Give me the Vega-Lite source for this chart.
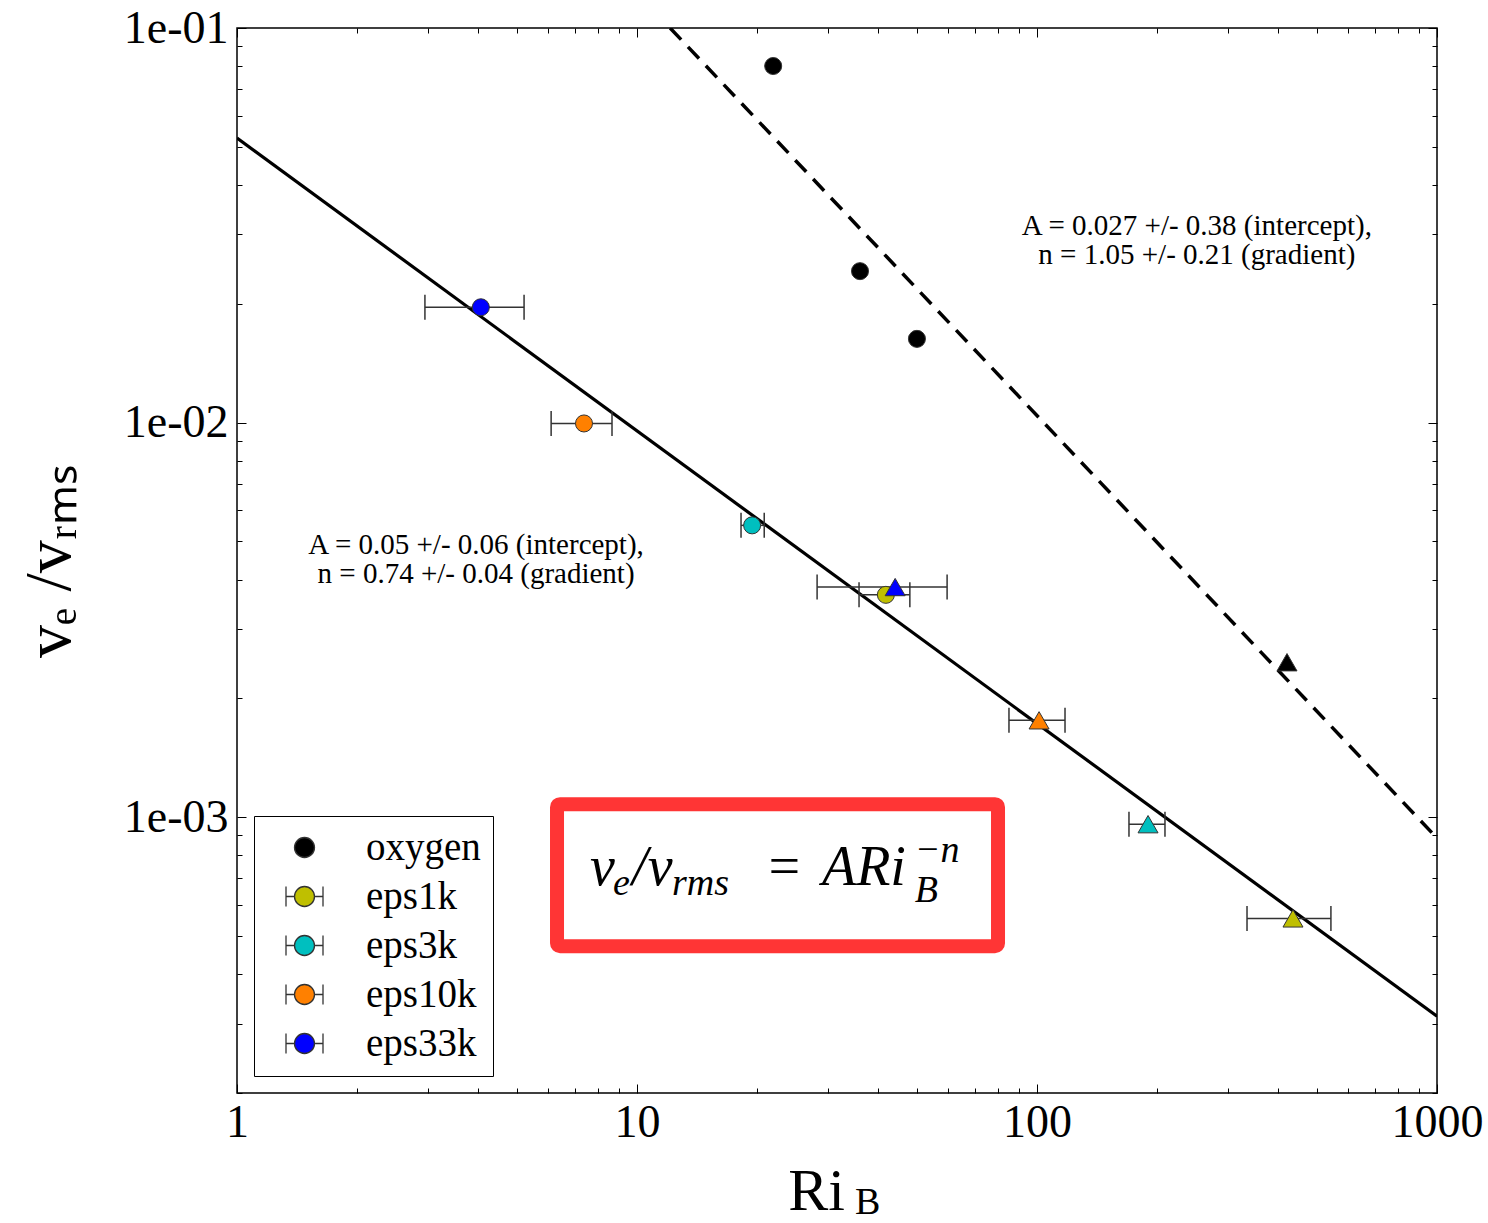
{
  "$schema": "https://vega.github.io/schema/vega-lite/v6.json",
  "width": 1200,
  "height": 1065,
  "autosize": {"type": "none"},
  "padding": {"left": 237, "top": 28, "right": 51, "bottom": 130},
  "background": "white",
  "config": {
    "view": {"stroke": "black", "strokeWidth": 1.5},
    "axis": {
      "domain": false,
      "grid": false,
      "tickColor": "black",
      "tickWidth": 1,
      "labelFont": "Liberation Serif",
      "labelFontSize": 46,
      "labelColor": "black",
      "labelFlush": false,
      "labelOverlap": false,
      "labelBound": false,
      "titleFont": "Liberation Serif",
      "titleColor": "black",
      "titleFontWeight": "normal"
    }
  },
  "datasets": {
    "runs": [
      {"sim": "oxygen", "case": "I", "ri": 21.9, "ve": 0.0801},
      {"sim": "oxygen", "case": "I", "ri": 36.1, "ve": 0.0242},
      {"sim": "oxygen", "case": "I", "ri": 50.1, "ve": 0.0163},
      {"sim": "eps33k", "case": "I", "ri": 4.07, "ve": 0.0196, "lo": 2.95, "hi": 5.22},
      {"sim": "eps10k", "case": "I", "ri": 7.37, "ve": 0.00995, "lo": 6.1, "hi": 8.66},
      {"sim": "eps3k", "case": "I", "ri": 19.4, "ve": 0.00549, "lo": 18.2, "hi": 20.8},
      {"sim": "eps1k", "case": "I", "ri": 41.9, "ve": 0.00366, "lo": 35.9, "hi": 48.1},
      {"sim": "oxygen", "case": "II", "ri": 421.7, "ve": 0.00247},
      {"sim": "eps33k", "case": "II", "ri": 44.2, "ve": 0.00383, "lo": 28.2, "hi": 59.6},
      {"sim": "eps10k", "case": "II", "ri": 101.2, "ve": 0.00176, "lo": 85.1, "hi": 117.5},
      {"sim": "eps3k", "case": "II", "ri": 189.5, "ve": 0.00096, "lo": 169.8, "hi": 208.9},
      {"sim": "eps1k", "case": "II", "ri": 436.5, "ve": 0.000554, "lo": 335, "hi": 543}
    ],
    "fitEps": [
      {"ri": 1, "ve": 0.0526},
      {"ri": 1000, "ve": 0.000313}
    ],
    "fitOxygen": [
      {"ri": 12.1, "ve": 0.1},
      {"ri": 1000, "ve": 0.000885}
    ],
    "fitNotes": [
      {"note": "A = 0.027 +/- 0.38 (intercept),\nn = 1.05 +/- 0.21 (gradient)", "ri": 251, "ve": 0.0315},
      {"note": "A = 0.05 +/- 0.06 (intercept),\nn = 0.74 +/- 0.04 (gradient)", "ri": 3.96, "ve": 0.00489}
    ],
    "lawBox": [
      {"ri0": 6.31, "ri1": 79.9, "ve0": 0.000471, "ve1": 0.001079}
    ],
    "lawMain": [
      {"t": "v", "ri": 7.63, "ve": 0.000672},
      {"t": "/v", "ri": 9.72, "ve": 0.000672},
      {"t": "=", "ri": 20.89, "ve": 0.000672},
      {"t": "ARi", "ri": 29.0, "ve": 0.000672}
    ],
    "lawSub": [
      {"t": "e", "ri": 8.71, "ve": 0.000634},
      {"t": "rms", "ri": 12.23, "ve": 0.000634},
      {"t": "B", "ri": 49.5, "ve": 0.000609},
      {"t": "−n", "ri": 49.5, "ve": 0.000769}
    ],
    "xTitleSub": [
      {"t": "B", "ri": 35.1, "ve": 0.0000985}
    ]
  },
  "layer": [
    {
      "data": {"name": "lawBox"},
      "mark": {"type": "rect", "fill": "white", "stroke": "#ff3535", "strokeWidth": 14, "cornerRadius": 3},
      "encoding": {
        "x": {
          "field": "ri0", "type": "quantitative",
          "scale": {"type": "log", "domain": [1, 1000], "nice": false},
          "axis": {
            "orient": "bottom",
            "values": [1, 2, 3, 4, 5, 6, 7, 8, 9, 10, 20, 30, 40, 50, 60, 70, 80, 90, 100, 200, 300, 400, 500, 600, 700, 800, 900, 1000],
            "labelExpr": "indexof([1, 10, 100, 1000], datum.value) >= 0 ? '' + datum.value : ''",
            "tickSize": {"expr": "indexof([1, 10, 100, 1000], datum.value) >= 0 ? -9 : -5"},
            "labelPadding": 16,
            "title": "Ri",
            "titleFontSize": 60,
            "titlePadding": 13,
            "titleX": 579
          }
        },
        "x2": {"field": "ri1"},
        "y": {
          "field": "ve0", "type": "quantitative",
          "scale": {"type": "log", "domain": [0.0002, 0.1], "nice": false},
          "axis": {
            "orient": "left",
            "values": [0.0002, 0.0003, 0.0004, 0.0005, 0.0006, 0.0007, 0.0008, 0.0009, 0.001, 0.002, 0.003, 0.004, 0.005, 0.006, 0.007, 0.008, 0.009, 0.01, 0.02, 0.03, 0.04, 0.05, 0.06, 0.07, 0.08, 0.09, 0.1],
            "labelExpr": "datum.value == 0.1 ? '1e-01' : datum.value == 0.01 ? '1e-02' : datum.value == 0.001 ? '1e-03' : ''",
            "tickSize": {"expr": "indexof([0.001, 0.01, 0.1], datum.value) >= 0 ? -9 : -5"},
            "labelPadding": 18,
            "title": "vₑ /vᵣₘₛ",
            "titleFontSize": 66,
            "titlePadding": 40
          }
        },
        "y2": {"field": "ve1"}
      }
    },
    {
      "data": {"name": "lawMain"},
      "mark": {"type": "text", "font": "Liberation Serif", "fontStyle": "italic", "fontSize": 56, "align": "left", "baseline": "alphabetic", "color": "black"},
      "encoding": {
        "x": {"field": "ri", "type": "quantitative", "scale": {"type": "log", "domain": [1, 1000], "nice": false}, "axis": null},
        "y": {"field": "ve", "type": "quantitative", "scale": {"type": "log", "domain": [0.0002, 0.1], "nice": false}, "axis": null},
        "text": {"field": "t"}
      }
    },
    {
      "data": {"name": "lawSub"},
      "mark": {"type": "text", "font": "Liberation Serif", "fontStyle": "italic", "fontSize": 38, "align": "left", "baseline": "alphabetic", "color": "black"},
      "encoding": {
        "x": {"field": "ri", "type": "quantitative", "scale": {"type": "log", "domain": [1, 1000], "nice": false}, "axis": null},
        "y": {"field": "ve", "type": "quantitative", "scale": {"type": "log", "domain": [0.0002, 0.1], "nice": false}, "axis": null},
        "text": {"field": "t"}
      }
    },
    {
      "data": {"name": "xTitleSub"},
      "mark": {"type": "text", "font": "Liberation Serif", "fontSize": 38, "align": "left", "baseline": "alphabetic", "color": "black"},
      "encoding": {
        "x": {"field": "ri", "type": "quantitative", "scale": {"type": "log", "domain": [1, 1000], "nice": false}, "axis": null},
        "y": {"field": "ve", "type": "quantitative", "scale": {"type": "log", "domain": [0.0002, 0.1], "nice": false}, "axis": null},
        "text": {"field": "t"}
      }
    },
    {
      "data": {"name": "fitNotes"},
      "mark": {"type": "text", "font": "Liberation Serif", "fontSize": 29, "align": "center", "baseline": "middle", "lineBreak": "\n", "lineHeight": 29, "color": "black"},
      "encoding": {
        "x": {"field": "ri", "type": "quantitative", "scale": {"type": "log", "domain": [1, 1000], "nice": false}, "axis": null},
        "y": {"field": "ve", "type": "quantitative", "scale": {"type": "log", "domain": [0.0002, 0.1], "nice": false}, "axis": null},
        "text": {"field": "note"}
      }
    },
    {
      "data": {"name": "fitEps"},
      "mark": {"type": "line", "color": "black", "strokeWidth": 3.2, "clip": true},
      "encoding": {
        "x": {"field": "ri", "type": "quantitative", "scale": {"type": "log", "domain": [1, 1000], "nice": false}, "axis": null},
        "y": {"field": "ve", "type": "quantitative", "scale": {"type": "log", "domain": [0.0002, 0.1], "nice": false}, "axis": null}
      }
    },
    {
      "data": {"name": "fitOxygen"},
      "mark": {"type": "line", "color": "black", "strokeWidth": 3.5, "strokeDash": [16, 10], "clip": true},
      "encoding": {
        "x": {
          "field": "ri", "type": "quantitative",
          "scale": {"type": "log", "domain": [1, 1000], "nice": false},
          "axis": {
            "orient": "top",
            "values": [1, 2, 3, 4, 5, 6, 7, 8, 9, 10, 20, 30, 40, 50, 60, 70, 80, 90, 100, 200, 300, 400, 500, 600, 700, 800, 900, 1000],
            "labels": false,
            "tickSize": {"expr": "indexof([1, 10, 100, 1000], datum.value) >= 0 ? -9 : -5"},
            "title": null
          }
        },
        "y": {
          "field": "ve", "type": "quantitative",
          "scale": {"type": "log", "domain": [0.0002, 0.1], "nice": false},
          "axis": {
            "orient": "right",
            "values": [0.0002, 0.0003, 0.0004, 0.0005, 0.0006, 0.0007, 0.0008, 0.0009, 0.001, 0.002, 0.003, 0.004, 0.005, 0.006, 0.007, 0.008, 0.009, 0.01, 0.02, 0.03, 0.04, 0.05, 0.06, 0.07, 0.08, 0.09, 0.1],
            "labels": false,
            "tickSize": {"expr": "indexof([0.001, 0.01, 0.1], datum.value) >= 0 ? -9 : -5"},
            "title": null
          }
        }
      }
    },
    {
      "data": {"name": "runs"},
      "transform": [{"filter": "isValid(datum.lo)"}],
      "mark": {"type": "rule", "color": "#333333", "strokeWidth": 1.5},
      "encoding": {
        "x": {"field": "lo", "type": "quantitative", "scale": {"type": "log", "domain": [1, 1000], "nice": false}, "axis": null},
        "x2": {"field": "hi"},
        "y": {"field": "ve", "type": "quantitative", "scale": {"type": "log", "domain": [0.0002, 0.1], "nice": false}, "axis": null}
      }
    },
    {
      "data": {"name": "runs"},
      "transform": [{"filter": "isValid(datum.lo)"}],
      "mark": {"type": "point", "shape": "M0,-1L0,1", "filled": false, "stroke": "#333333", "strokeWidth": 1.5, "size": 625, "opacity": 1},
      "encoding": {
        "x": {"field": "lo", "type": "quantitative", "scale": {"type": "log", "domain": [1, 1000], "nice": false}, "axis": null},
        "y": {"field": "ve", "type": "quantitative", "scale": {"type": "log", "domain": [0.0002, 0.1], "nice": false}, "axis": null}
      }
    },
    {
      "data": {"name": "runs"},
      "transform": [{"filter": "isValid(datum.hi)"}],
      "mark": {"type": "point", "shape": "M0,-1L0,1", "filled": false, "stroke": "#333333", "strokeWidth": 1.5, "size": 625, "opacity": 1},
      "encoding": {
        "x": {"field": "hi", "type": "quantitative", "scale": {"type": "log", "domain": [1, 1000], "nice": false}, "axis": null},
        "y": {"field": "ve", "type": "quantitative", "scale": {"type": "log", "domain": [0.0002, 0.1], "nice": false}, "axis": null}
      }
    },
    {
      "data": {"name": "runs"},
      "mark": {"type": "point", "filled": true, "stroke": "#333333", "strokeWidth": 1, "opacity": 1},
      "encoding": {
        "x": {"field": "ri", "type": "quantitative", "scale": {"type": "log", "domain": [1, 1000], "nice": false}, "axis": null},
        "y": {"field": "ve", "type": "quantitative", "scale": {"type": "log", "domain": [0.0002, 0.1], "nice": false}, "axis": null},
        "shape": {"field": "case", "type": "nominal", "scale": {"domain": ["I", "II"], "range": ["circle", "triangle-up"]}, "legend": null},
        "size": {"field": "case", "type": "ordinal", "scale": {"domain": ["I", "II"], "range": [290, 400]}, "legend": null},
        "fill": {
          "field": "sim", "type": "nominal",
          "scale": {"domain": ["oxygen", "eps1k", "eps3k", "eps10k", "eps33k"], "range": ["#000000", "#bfbf00", "#00bfbf", "#ff8000", "#0000ff"]},
          "legend": {
            "title": null,
            "orient": "bottom-left",
            "offset": 17,
            "padding": 12,
            "fillColor": "white",
            "strokeColor": "black",
            "symbolSize": 1369,
            "symbolOffset": 19,
            "symbolType": {"expr": "datum.value === 'oxygen' ? 'M-0.54,0A0.54,0.54,0,1,0,0.54,0A0.54,0.54,0,1,0,-0.54,0Z' : 'M-0.54,0A0.54,0.54,0,1,0,0.54,0A0.54,0.54,0,1,0,-0.54,0ZM-1,0L-0.54,0M0.54,0L1,0M-1,-0.54L-1,0.54M1,-0.54L1,0.54'"},
            "symbolStrokeColor": "#333333",
            "symbolStrokeWidth": 1.3,
            "symbolOpacity": 1,
            "labelOffset": 42,
            "labelFont": "Liberation Serif",
            "labelFontSize": 39,
            "labelColor": "black",
            "rowPadding": 9
          }
        }
      }
    }
  ],
  "resolve": {"axis": {"x": "independent", "y": "independent"}}
}
